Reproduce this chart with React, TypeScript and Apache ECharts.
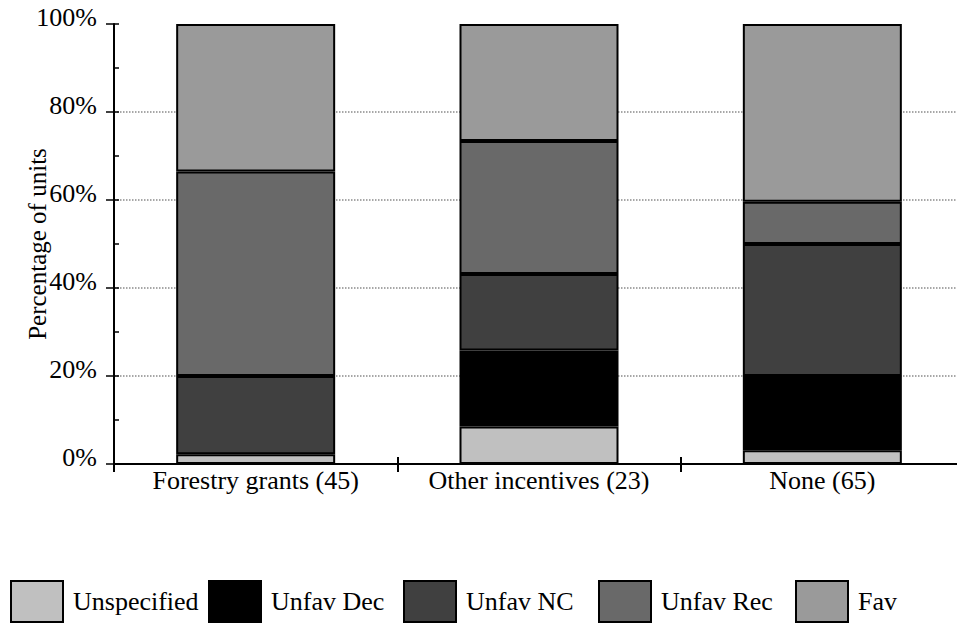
import React, { useEffect, useRef } from "react";
import * as echarts from "echarts";

const categories = ["Forestry grants (45)", "Other incentives (23)", "None (65)"];
const seriesNames = ["Unspecified", "Unfav Dec", "Unfav NC", "Unfav Rec", "Fav"];
const unspecified = [2.2, 8.5, 3.1];
const unfavDec = [0, 17.3, 16.9];
const unfavNC = [17.8, 17.4, 30.0];
const unfavRec = [46.5, 30.2, 9.6];
const fav = [33.5, 26.6, 40.4];
const yTicks = [0, 20, 40, 60, 80, 100];

const seriesValues = [unspecified, unfavDec, unfavNC, unfavRec, fav];
const seriesColors = ["#c0c0c0", "#000000", "#404040", "#696969", "#9a9a9a"];
const legendLeft = [10, 208, 403, 598, 795];

const FONT = "Liberation Serif";

export default function App() {
  const ref = useRef<HTMLDivElement | null>(null);

  useEffect(() => {
    if (!ref.current) return;
    const chart = echarts.init(ref.current, null, { renderer: "svg" });
    const option: any = {
      animation: false,
      backgroundColor: "#ffffff",
      textStyle: { fontFamily: FONT, color: "#000" },
      grid: {
        left: 114,
        top: 24,
        width: 850,
        height: 440,
        containLabel: false,
        outerBoundsMode: "none",
      },
      legend: seriesNames.map((name, i) => ({
        data: [name],
        left: legendLeft[i],
        top: 580,
        itemWidth: 52,
        itemHeight: 41,
        icon: "rect",
        padding: 0,
        textStyle: {
          fontFamily: FONT,
          fontSize: 26,
          color: "#000",
          padding: [0, 0, 0, 5],
        },
      })),
      xAxis: [
        {
          type: "category",
          data: categories,
          position: "bottom",
          axisLine: { show: true, lineStyle: { color: "#000", width: 2 } },
          axisTick: { show: true, interval: 0, length: 8, lineStyle: { color: "#000", width: 2 } },
          axisLabel: {
            interval: 0,
            margin: 3,
            fontFamily: FONT,
            fontSize: 26,
            color: "#000",
          },
          splitLine: { show: false },
        },
        {
          type: "category",
          data: categories,
          position: "bottom",
          axisLine: { show: false },
          axisTick: { show: true, inside: true, interval: 0, length: 7, lineStyle: { color: "#000", width: 2 } },
          axisLabel: { show: false },
          splitLine: { show: false },
        },
      ],
      yAxis: [
        {
          type: "value",
          min: yTicks[0],
          max: yTicks[yTicks.length - 1],
          interval: 20,
          position: "left",
          name: "Percentage of units",
          nameLocation: "middle",
          nameGap: 64,
          nameMoveOverlap: false,
          nameTextStyle: { fontFamily: FONT, fontSize: 25, color: "#000" },
          axisLine: { show: true, lineStyle: { color: "#000", width: 2 } },
          axisTick: { show: true, length: 8, lineStyle: { color: "#000", width: 1.5 } },
          axisLabel: {
            formatter: "{value}%",
            margin: 17,
            fontFamily: FONT,
            fontSize: 26,
            color: "#000",
            verticalAlign: "bottom",
            lineHeight: 14,
          },
          splitLine: {
            show: true,
            showMinLine: false,
            showMaxLine: false,
            lineStyle: { color: "#8a8a8a", type: "dotted", width: 1.5 },
          },
        },
        {
          type: "value",
          min: 0,
          max: 100,
          interval: 10,
          position: "left",
          offset: 0,
          axisLine: { show: false },
          axisTick: { show: true, inside: true, length: 5, lineStyle: { color: "#000", width: 1.5 } },
          axisLabel: { show: false },
          splitLine: { show: false },
        },
      ],
      series: seriesNames.map((name, i) => ({
        name,
        type: "bar",
        stack: "total",
        xAxisIndex: 0,
        yAxisIndex: 0,
        barWidth: 159,
        data: seriesValues[i].map((v) => (v === 0 ? "-" : v)),
        itemStyle: { color: seriesColors[i], borderColor: "#000", borderWidth: 2 },
        emphasis: { disabled: true },
      })),
    };
    chart.setOption(option);
    return () => {
      chart.dispose();
    };
  }, []);

  return (
    <div
      ref={ref}
      style={{ position: "fixed", left: 0, top: 0, width: 957, height: 623, background: "#fff" }}
    />
  );
}
